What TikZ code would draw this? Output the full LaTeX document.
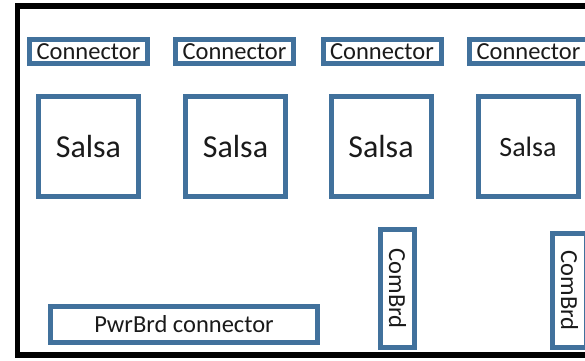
\documentclass[tikz,border=0pt]{standalone}
\usepackage{fontspec}
\setmainfont{Carlito}
\definecolor{boxblue}{HTML}{41719C}
\definecolor{ink}{HTML}{1A1A1A}
\begin{document}
\begin{tikzpicture}[x=1pt,y=-1pt,
  part/.style={draw=boxblue, line width=5pt, fill=white, inner sep=0pt,
    text=ink, font=\fontsize{24.5}{26}\selectfont},
  conn/.style={part, minimum width=118pt, minimum height=24pt},
  salsa/.style={part, minimum width=100pt, minimum height=100pt,
    font=\fontsize{32}{34}\selectfont},
  combrd/.style={part, rotate=-90, minimum height=34pt}
]
\useasboundingbox (0,0) rectangle (585,360);
% enclosure
\draw[line width=5.5pt, black] (17.5,5.8) rectangle (640,355);

% connectors along the top
\node[conn] (c1) at (88.5,51.5) {Connector};
\node[conn] (c2) at (234.5,51.5) {Connector};
\node[conn] (c3) at (382,51.5) {Connector};
\node[conn] (c4) at (528.5,51.5) {Connector};

% Salsa modules
\node[salsa] (s1) at (88.5,146.5) {Salsa};
\node[salsa] (s2) at (235.5,146.5) {Salsa};
\node[salsa] (s3) at (381,146.5) {Salsa};
\node[salsa, font=\fontsize{28}{30}\selectfont] (s4) at (528,146.5) {Salsa};

% power board connector
\node[part, minimum width=267pt, minimum height=36pt] (pwr) at (184,324.5) {PwrBrd connector};

% communication boards
\node[combrd, minimum width=118pt] (cb1) at (397.5,288.5) {ComBrd};
\node[combrd, minimum width=114pt] (cb2) at (569.5,290.5) {ComBrd};
\end{tikzpicture}
\end{document}
